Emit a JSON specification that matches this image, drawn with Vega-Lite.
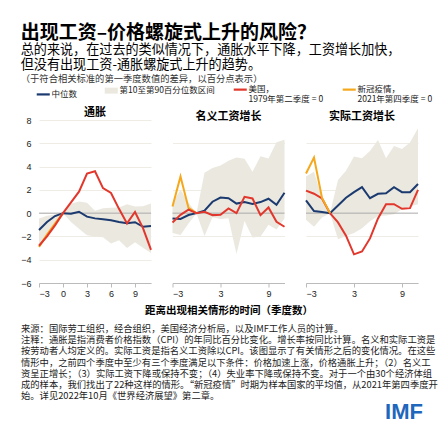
{
  "$schema": "https://vega.github.io/schema/vega-lite/v6.json",
  "background": "white",
  "padding": {"left": 20, "top": 23, "right": 4, "bottom": 4},
  "title": {
    "text": "出现工资–价格螺旋式上升的风险？",
    "subtitle": "总的来说，在过去的类似情况下，通胀水平下降，工资增长加快，",
    "anchor": "start",
    "font": "Noto Sans CJK SC",
    "fontSize": 19,
    "fontWeight": "bold",
    "color": "#000000",
    "subtitleFont": "Noto Sans CJK SC",
    "subtitleFontSize": 13.1,
    "subtitleColor": "#000000",
    "subtitlePadding": 1,
    "offset": 2
  },
  "datasets": {
    "lines": [
      {"panel": "通胀", "series": "中位数", "q": -3, "v": -1.45},
      {"panel": "通胀", "series": "中位数", "q": -2, "v": -0.76},
      {"panel": "通胀", "series": "中位数", "q": -1, "v": -0.25},
      {"panel": "通胀", "series": "中位数", "q": 0, "v": 0},
      {"panel": "通胀", "series": "中位数", "q": 1, "v": -0.06},
      {"panel": "通胀", "series": "中位数", "q": 2, "v": 0.12},
      {"panel": "通胀", "series": "中位数", "q": 3, "v": -0.3},
      {"panel": "通胀", "series": "中位数", "q": 4, "v": -0.45},
      {"panel": "通胀", "series": "中位数", "q": 5, "v": -0.53},
      {"panel": "通胀", "series": "中位数", "q": 6, "v": -0.62},
      {"panel": "通胀", "series": "中位数", "q": 7, "v": -0.76},
      {"panel": "通胀", "series": "中位数", "q": 8, "v": -0.87},
      {"panel": "通胀", "series": "中位数", "q": 9, "v": -0.78},
      {"panel": "通胀", "series": "中位数", "q": 10, "v": -1.17},
      {"panel": "通胀", "series": "中位数", "q": 11, "v": -1.1},
      {"panel": "通胀", "series": "新冠疫情，2021年第四季度 = 0", "q": -3, "v": -2.9},
      {"panel": "通胀", "series": "新冠疫情，2021年第四季度 = 0", "q": -2, "v": -1.85},
      {"panel": "通胀", "series": "新冠疫情，2021年第四季度 = 0", "q": -1, "v": -0.9},
      {"panel": "通胀", "series": "新冠疫情，2021年第四季度 = 0", "q": 0, "v": 0},
      {"panel": "通胀", "series": "美国，1979年第二季度 = 0", "q": -3, "v": -2.8},
      {"panel": "通胀", "series": "美国，1979年第二季度 = 0", "q": -2, "v": -2.0},
      {"panel": "通胀", "series": "美国，1979年第二季度 = 0", "q": -1, "v": -1.05},
      {"panel": "通胀", "series": "美国，1979年第二季度 = 0", "q": 0, "v": 0},
      {"panel": "通胀", "series": "美国，1979年第二季度 = 0", "q": 1, "v": 0.93},
      {"panel": "通胀", "series": "美国，1979年第二季度 = 0", "q": 2, "v": 1.84},
      {"panel": "通胀", "series": "美国，1979年第二季度 = 0", "q": 3, "v": 3.4},
      {"panel": "通胀", "series": "美国，1979年第二季度 = 0", "q": 4, "v": 3.6},
      {"panel": "通胀", "series": "美国，1979年第二季度 = 0", "q": 5, "v": 2.15},
      {"panel": "通胀", "series": "美国，1979年第二季度 = 0", "q": 6, "v": 1.73},
      {"panel": "通胀", "series": "美国，1979年第二季度 = 0", "q": 7, "v": 0.37},
      {"panel": "通胀", "series": "美国，1979年第二季度 = 0", "q": 8, "v": -0.88},
      {"panel": "通胀", "series": "美国，1979年第二季度 = 0", "q": 9, "v": 0.1},
      {"panel": "通胀", "series": "美国，1979年第二季度 = 0", "q": 10, "v": -1.28},
      {"panel": "通胀", "series": "美国，1979年第二季度 = 0", "q": 11, "v": -3.15},
      {"panel": "名义工资增长", "series": "中位数", "q": -3, "v": -0.45},
      {"panel": "名义工资增长", "series": "中位数", "q": -2, "v": -0.5},
      {"panel": "名义工资增长", "series": "中位数", "q": -1, "v": -0.16},
      {"panel": "名义工资增长", "series": "中位数", "q": 0, "v": 0},
      {"panel": "名义工资增长", "series": "中位数", "q": 1, "v": 0.22},
      {"panel": "名义工资增长", "series": "中位数", "q": 2, "v": 0.98},
      {"panel": "名义工资增长", "series": "中位数", "q": 3, "v": 1.34},
      {"panel": "名义工资增长", "series": "中位数", "q": 4, "v": 1.28},
      {"panel": "名义工资增长", "series": "中位数", "q": 5, "v": 0.82},
      {"panel": "名义工资增长", "series": "中位数", "q": 6, "v": 0.95},
      {"panel": "名义工资增长", "series": "中位数", "q": 7, "v": 0.78},
      {"panel": "名义工资增长", "series": "中位数", "q": 8, "v": 0.95},
      {"panel": "名义工资增长", "series": "中位数", "q": 9, "v": 1.24},
      {"panel": "名义工资增长", "series": "中位数", "q": 10, "v": 0.72},
      {"panel": "名义工资增长", "series": "中位数", "q": 11, "v": 1.75},
      {"panel": "名义工资增长", "series": "新冠疫情，2021年第四季度 = 0", "q": -3, "v": 0.57},
      {"panel": "名义工资增长", "series": "新冠疫情，2021年第四季度 = 0", "q": -2, "v": 3.15},
      {"panel": "名义工资增长", "series": "新冠疫情，2021年第四季度 = 0", "q": -1, "v": 0.45},
      {"panel": "名义工资增长", "series": "新冠疫情，2021年第四季度 = 0", "q": 0, "v": 0},
      {"panel": "名义工资增长", "series": "美国，1979年第二季度 = 0", "q": -3, "v": -0.8},
      {"panel": "名义工资增长", "series": "美国，1979年第二季度 = 0", "q": -2, "v": -0.15},
      {"panel": "名义工资增长", "series": "美国，1979年第二季度 = 0", "q": -1, "v": 0.3},
      {"panel": "名义工资增长", "series": "美国，1979年第二季度 = 0", "q": 0, "v": 0},
      {"panel": "名义工资增长", "series": "美国，1979年第二季度 = 0", "q": 1, "v": 0.11},
      {"panel": "名义工资增长", "series": "美国，1979年第二季度 = 0", "q": 2, "v": -0.17},
      {"panel": "名义工资增长", "series": "美国，1979年第二季度 = 0", "q": 3, "v": -0.14},
      {"panel": "名义工资增长", "series": "美国，1979年第二季度 = 0", "q": 4, "v": 0.4},
      {"panel": "名义工资增长", "series": "美国，1979年第二季度 = 0", "q": 5, "v": 0.0},
      {"panel": "名义工资增长", "series": "美国，1979年第二季度 = 0", "q": 6, "v": 1.4},
      {"panel": "名义工资增长", "series": "美国，1979年第二季度 = 0", "q": 7, "v": 1.26},
      {"panel": "名义工资增长", "series": "美国，1979年第二季度 = 0", "q": 8, "v": -0.17},
      {"panel": "名义工资增长", "series": "美国，1979年第二季度 = 0", "q": 9, "v": 0.49},
      {"panel": "名义工资增长", "series": "美国，1979年第二季度 = 0", "q": 10, "v": -0.74},
      {"panel": "名义工资增长", "series": "美国，1979年第二季度 = 0", "q": 11, "v": -1.17},
      {"panel": "实际工资增长", "series": "中位数", "q": -3, "v": 1.1},
      {"panel": "实际工资增长", "series": "中位数", "q": -2, "v": 0.18},
      {"panel": "实际工资增长", "series": "中位数", "q": -1, "v": 0.1},
      {"panel": "实际工资增长", "series": "中位数", "q": 0, "v": 0},
      {"panel": "实际工资增长", "series": "中位数", "q": 1, "v": 0.66},
      {"panel": "实际工资增长", "series": "中位数", "q": 2, "v": 1.32},
      {"panel": "实际工资增长", "series": "中位数", "q": 3, "v": 1.8},
      {"panel": "实际工资增长", "series": "中位数", "q": 4, "v": 2.23},
      {"panel": "实际工资增长", "series": "中位数", "q": 5, "v": 1.28},
      {"panel": "实际工资增长", "series": "中位数", "q": 6, "v": 1.66},
      {"panel": "实际工资增长", "series": "中位数", "q": 7, "v": 1.71},
      {"panel": "实际工资增长", "series": "中位数", "q": 8, "v": 2.23},
      {"panel": "实际工资增长", "series": "中位数", "q": 9, "v": 1.8},
      {"panel": "实际工资增长", "series": "中位数", "q": 10, "v": 1.8},
      {"panel": "实际工资增长", "series": "中位数", "q": 11, "v": 2.5},
      {"panel": "实际工资增长", "series": "美国，1979年第二季度 = 0", "q": -3, "v": 1.94},
      {"panel": "实际工资增长", "series": "美国，1979年第二季度 = 0", "q": -2, "v": 1.67},
      {"panel": "实际工资增长", "series": "美国，1979年第二季度 = 0", "q": -1, "v": 1.26},
      {"panel": "实际工资增长", "series": "美国，1979年第二季度 = 0", "q": 0, "v": 0},
      {"panel": "实际工资增长", "series": "美国，1979年第二季度 = 0", "q": 1, "v": -0.8},
      {"panel": "实际工资增长", "series": "美国，1979年第二季度 = 0", "q": 2, "v": -1.94},
      {"panel": "实际工资增长", "series": "美国，1979年第二季度 = 0", "q": 3, "v": -3.54},
      {"panel": "实际工资增长", "series": "美国，1979年第二季度 = 0", "q": 4, "v": -3.29},
      {"panel": "实际工资增长", "series": "美国，1979年第二季度 = 0", "q": 5, "v": -2.17},
      {"panel": "实际工资增长", "series": "美国，1979年第二季度 = 0", "q": 6, "v": -0.46},
      {"panel": "实际工资增长", "series": "美国，1979年第二季度 = 0", "q": 7, "v": 0.77},
      {"panel": "实际工资增长", "series": "美国，1979年第二季度 = 0", "q": 8, "v": 0.77},
      {"panel": "实际工资增长", "series": "美国，1979年第二季度 = 0", "q": 9, "v": 0.37},
      {"panel": "实际工资增长", "series": "美国，1979年第二季度 = 0", "q": 10, "v": 0.43},
      {"panel": "实际工资增长", "series": "美国，1979年第二季度 = 0", "q": 11, "v": 2.0},
      {"panel": "实际工资增长", "series": "新冠疫情，2021年第四季度 = 0", "q": -3, "v": 3.4},
      {"panel": "实际工资增长", "series": "新冠疫情，2021年第四季度 = 0", "q": -2, "v": 4.77},
      {"panel": "实际工资增长", "series": "新冠疫情，2021年第四季度 = 0", "q": -1, "v": 1.3},
      {"panel": "实际工资增长", "series": "新冠疫情，2021年第四季度 = 0", "q": 0, "v": 0}
    ],
    "band": [
      {"panel": "通胀", "q": -3, "lo": -2.75, "hi": -0.45},
      {"panel": "通胀", "q": -2, "lo": -1.95, "hi": -0.22},
      {"panel": "通胀", "q": -1, "lo": -1.0, "hi": -0.12},
      {"panel": "通胀", "q": 0, "lo": 0, "hi": 0},
      {"panel": "通胀", "q": 1, "lo": -0.75, "hi": 0.8},
      {"panel": "通胀", "q": 2, "lo": -1.35, "hi": 1.0},
      {"panel": "通胀", "q": 3, "lo": -1.9, "hi": 0.9},
      {"panel": "通胀", "q": 4, "lo": -2.0, "hi": 0.2},
      {"panel": "通胀", "q": 5, "lo": -2.08, "hi": 0.43},
      {"panel": "通胀", "q": 6, "lo": -2.6, "hi": 0.46},
      {"panel": "通胀", "q": 7, "lo": -2.33, "hi": 0.48},
      {"panel": "通胀", "q": 8, "lo": -3.0, "hi": 0.77},
      {"panel": "通胀", "q": 9, "lo": -2.5, "hi": 0.57},
      {"panel": "通胀", "q": 10, "lo": -2.98, "hi": 0.6},
      {"panel": "通胀", "q": 11, "lo": -3.42, "hi": 0.83},
      {"panel": "名义工资增长", "q": -3, "lo": -1.7, "hi": 0.9},
      {"panel": "名义工资增长", "q": -2, "lo": -1.88, "hi": 2.0},
      {"panel": "名义工资增长", "q": -1, "lo": -0.9, "hi": 0.9},
      {"panel": "名义工资增长", "q": 0, "lo": 0, "hi": 0},
      {"panel": "名义工资增长", "q": 1, "lo": -1.97, "hi": 3.47},
      {"panel": "名义工资增长", "q": 2, "lo": -0.36, "hi": 3.88},
      {"panel": "名义工资增长", "q": 3, "lo": -0.5, "hi": 4.1},
      {"panel": "名义工资增长", "q": 4, "lo": -0.43, "hi": 4.5},
      {"panel": "名义工资增长", "q": 5, "lo": -3.5, "hi": 4.77},
      {"panel": "名义工资增长", "q": 6, "lo": -0.68, "hi": 4.67},
      {"panel": "名义工资增长", "q": 7, "lo": -2.1, "hi": 3.55},
      {"panel": "名义工资增长", "q": 8, "lo": -2.0, "hi": 4.88},
      {"panel": "名义工资增长", "q": 9, "lo": -1.0, "hi": 4.7},
      {"panel": "名义工资增长", "q": 10, "lo": -1.4, "hi": 6.08},
      {"panel": "名义工资增长", "q": 11, "lo": -0.45, "hi": 6.3},
      {"panel": "实际工资增长", "q": -3, "lo": -0.57, "hi": 3.15},
      {"panel": "实际工资增长", "q": -2, "lo": -1.17, "hi": 3.55},
      {"panel": "实际工资增长", "q": -1, "lo": -0.37, "hi": 1.3},
      {"panel": "实际工资增长", "q": 0, "lo": 0, "hi": 0},
      {"panel": "实际工资增长", "q": 1, "lo": -2.25, "hi": 2.85},
      {"panel": "实际工资增长", "q": 2, "lo": -1.97, "hi": 3.65},
      {"panel": "实际工资增长", "q": 3, "lo": -1.7, "hi": 4.86},
      {"panel": "实际工资增长", "q": 4, "lo": -1.3, "hi": 4.72},
      {"panel": "实际工资增长", "q": 5, "lo": -0.7, "hi": 5.34},
      {"panel": "实际工资增长", "q": 6, "lo": -0.25, "hi": 6.28},
      {"panel": "实际工资增长", "q": 7, "lo": -0.2, "hi": 4.72},
      {"panel": "实际工资增长", "q": 8, "lo": -0.1, "hi": 5.77},
      {"panel": "实际工资增长", "q": 9, "lo": 0.34, "hi": 5.5},
      {"panel": "实际工资增长", "q": 10, "lo": 0.56, "hi": 6.07},
      {"panel": "实际工资增长", "q": 11, "lo": 0.77, "hi": 7.3}
    ],
    "zero": [{"v": 0}],
    "notes": [
      {"line": 1, "text": "来源：国际劳工组织，经合组织，美国经济分析局，以及IMF工作人员的计算。"},
      {"line": 2, "text": "注释：通胀是指消费者价格指数（CPI）的年同比百分比变化。增长率按同比计算。名义和实际工资是"},
      {"line": 3, "text": "按劳动者人均定义的。实际工资是指名义工资除以CPI。该图显示了有关情形之后的变化情况。在这些"},
      {"line": 4, "text": "情形中，之前四个季度中至少有三个季度满足以下条件：价格加速上涨，价格通胀上升；（2）名义工"},
      {"line": 5, "text": "资呈正增长；（3）实际工资下降或保持不变；（4）失业率下降或保持不变。对于一个由30个经济体组"},
      {"line": 6, "text": "成的样本，我们找出了22种这样的情形。“新冠疫情”时期为样本国家的平均值，从2021年第四季度开"},
      {"line": 7, "text": "始。详见2022年10月《世界经济展望》第二章。"}
    ],
    "logo": [{"line": 8.4, "text": "IMF"}]
  },
  "vconcat": [
    {
      "title": {
        "text": "但没有出现工资-通胀螺旋式上升的趋势。",
        "subtitle": "（于符合相关标准的第一季度数值的差异，以百分点表示）",
        "anchor": "start",
        "fontSize": 13.1,
        "fontWeight": "normal",
        "color": "#000000",
        "subtitleFontSize": 9.3,
        "subtitleColor": "#333333",
        "subtitleFont": "Noto Sans CJK SC",
        "subtitlePadding": 3,
        "offset": 1
      },
      "spacing": 21.5,
      "bounds": "flush",
      "hconcat": [
        {
          "width": 112, "height": 163,
          "title": {"text": "通胀", "frame": "group", "fontSize": 11, "fontWeight": "bold", "offset": -2},
          "layer": [
            {"data": {"name": "band"}, "transform": [{"filter": "datum.panel == '通胀'"}],
             "mark": {"type": "area", "color": "#ebe8df"},
             "encoding": {
               "x": {"field": "q", "type": "quantitative", "scale": {"domain": [-3, 11], "nice": false}, "axis": {"values": [-3, 0, 3, 6, 9], "title": null}},
               "y": {"field": "lo", "type": "quantitative", "scale": {"domain": [-6, 8], "nice": false}, "axis": {"values": [-6, -4, -2, 0, 2, 4, 6, 8], "title": null, "labelPadding": 8, "labelOverlap": false, "labelSeparation": 0}},
               "y2": {"field": "hi"}}},
            {"data": {"name": "zero"}, "mark": {"type": "rule", "color": "#aaaaaa", "strokeWidth": 1},
             "encoding": {"y": {"field": "v", "type": "quantitative", "axis": {"values": [-6, -4, -2, 0, 2, 4, 6, 8], "title": null, "labelPadding": 8, "labelOverlap": false, "labelSeparation": 0}}}},
            {"data": {"name": "lines"}, "transform": [{"filter": "datum.panel == '通胀'"}],
             "mark": {"type": "line", "strokeWidth": 2},
             "encoding": {
               "x": {"field": "q", "type": "quantitative", "axis": {"values": [-3, 0, 3, 6, 9], "title": null}},
               "y": {"field": "v", "type": "quantitative", "axis": {"values": [-6, -4, -2, 0, 2, 4, 6, 8], "title": null, "labelPadding": 8, "labelOverlap": false, "labelSeparation": 0}},
               "color": {"field": "series", "type": "nominal",
                 "scale": {"domain": ["中位数", "第10至第90百分位数区间", "美国，1979年第二季度 = 0", "新冠疫情，2021年第四季度 = 0"], "range": ["#1b3a6f", "#ebe8df", "#e2372c", "#f5a81c"]},
                 "legend": {
                   "labelExpr": "datum.label == '美国，1979年第二季度 = 0' ? ['美国，', '1979年第二季度 = 0'] : datum.label == '新冠疫情，2021年第四季度 = 0' ? ['新冠疫情，', '2021年第四季度 = 0'] : datum.label",
                   "encode": {
                     "symbols": {"update": {"strokeWidth": {"signal": "datum.value == '第10至第90百分位数区间' ? 6 : 2.2"}}},
                     "labels": {"update": {"lineHeight": {"value": 10}, "dy": {"value": -4.5}}}}}}}}
          ]
        },
        {
          "width": 112, "height": 163,
          "title": {"text": "名义工资增长", "frame": "group", "fontSize": 11, "fontWeight": "bold", "offset": -2},
          "layer": [
            {"data": {"name": "band"}, "transform": [{"filter": "datum.panel == '名义工资增长'"}],
             "mark": {"type": "area", "color": "#ebe8df"},
             "encoding": {
               "x": {"field": "q", "type": "quantitative", "scale": {"domain": [-3, 11], "nice": false}, "axis": {"values": [-3, 0, 3, 6, 9], "title": "距离出现相关情形的时间（季度数）", "titleFontSize": 10.5, "titleFontWeight": "bold", "titlePadding": 7}},
               "y": {"field": "lo", "type": "quantitative", "scale": {"domain": [-6, 8], "nice": false}, "axis": {"values": [-6, -4, -2, 0, 2, 4, 6, 8], "title": null, "labels": false}},
               "y2": {"field": "hi"}}},
            {"data": {"name": "zero"}, "mark": {"type": "rule", "color": "#aaaaaa", "strokeWidth": 1}, "encoding": {"y": {"field": "v", "type": "quantitative"}}},
            {"data": {"name": "lines"}, "transform": [{"filter": "datum.panel == '名义工资增长'"}],
             "mark": {"type": "line", "strokeWidth": 2},
             "encoding": {
               "x": {"field": "q", "type": "quantitative"},
               "y": {"field": "v", "type": "quantitative"},
               "color": {"field": "series", "type": "nominal",
                 "scale": {"domain": ["中位数", "第10至第90百分位数区间", "美国，1979年第二季度 = 0", "新冠疫情，2021年第四季度 = 0"], "range": ["#1b3a6f", "#ebe8df", "#e2372c", "#f5a81c"]}}}}
          ]
        },
        {
          "width": 112, "height": 163,
          "title": {"text": "实际工资增长", "frame": "group", "fontSize": 11, "fontWeight": "bold", "offset": -2},
          "layer": [
            {"data": {"name": "band"}, "transform": [{"filter": "datum.panel == '实际工资增长'"}],
             "mark": {"type": "area", "color": "#ebe8df"},
             "encoding": {
               "x": {"field": "q", "type": "quantitative", "scale": {"domain": [-3, 11], "nice": false}, "axis": {"values": [-3, 0, 3, 6, 9], "title": null}},
               "y": {"field": "lo", "type": "quantitative", "scale": {"domain": [-6, 8], "nice": false}, "axis": {"values": [-6, -4, -2, 0, 2, 4, 6, 8], "title": null, "labels": false}},
               "y2": {"field": "hi"}}},
            {"data": {"name": "zero"}, "mark": {"type": "rule", "color": "#aaaaaa", "strokeWidth": 1}, "encoding": {"y": {"field": "v", "type": "quantitative"}}},
            {"data": {"name": "lines"}, "transform": [{"filter": "datum.panel == '实际工资增长'"}],
             "mark": {"type": "line", "strokeWidth": 2},
             "encoding": {
               "x": {"field": "q", "type": "quantitative"},
               "y": {"field": "v", "type": "quantitative"},
               "color": {"field": "series", "type": "nominal",
                 "scale": {"domain": ["中位数", "第10至第90百分位数区间", "美国，1979年第二季度 = 0", "新冠疫情，2021年第四季度 = 0"], "range": ["#1b3a6f", "#ebe8df", "#e2372c", "#f5a81c"]}}}}
          ]
        }
      ]
    },
    {
      "width": 384, "height": 96,
      "layer": [
        {"data": {"name": "notes"},
         "mark": {"type": "text", "align": "left", "baseline": "middle", "fontSize": 9.3, "color": "#222222"},
         "encoding": {
           "x": {"datum": 0, "type": "quantitative", "scale": {"domain": [0, 1], "range": [-18, 384], "nice": false, "zero": false}, "axis": null},
           "y": {"field": "line", "type": "quantitative", "scale": {"domain": [0.5, 9], "reverse": true, "nice": false, "zero": false}, "axis": null},
           "text": {"field": "text"}}},
        {"data": {"name": "logo"},
         "mark": {"type": "text", "align": "right", "baseline": "middle", "fontSize": 22, "fontWeight": "bold", "font": "Liberation Sans", "color": "#1e67bd"},
         "encoding": {
           "x": {"datum": 1, "type": "quantitative"},
           "y": {"field": "line", "type": "quantitative"},
           "text": {"field": "text"}}}
      ]
    }
  ],
  "spacing": 7,
  "resolve": {"scale": {"color": "independent"}, "legend": {"color": "independent"}},
  "config": {
    "font": "Noto Sans CJK SC",
    "view": {"stroke": null},
    "title": {"color": "#000000", "font": "Noto Sans CJK SC"},
    "axis": {"labelFont": "Liberation Sans", "labelFontSize": 9, "labelColor": "#222222", "labelOverlap": false, "gridColor": "#efece5", "domain": false, "ticks": false, "titleFont": "Noto Sans CJK SC", "titleColor": "#000000"},
    "axisX": {"grid": false, "domain": true, "domainColor": "#bbbbbb", "ticks": true, "tickColor": "#bbbbbb", "tickSize": 4, "labelPadding": 2},
    "axisY": {"grid": true},
    "legend": {
      "orient": "top",
      "direction": "horizontal",
      "title": null,
      "symbolType": "stroke",
      "symbolSize": 170,
      "symbolStrokeWidth": 2.2,
      "labelFontSize": 8.5,
      "labelFont": "Noto Sans CJK SC",
      "labelColor": "#222222",
      "labelBaseline": "top",
      "labelOffset": 4,
      "columnPadding": 14,
      "offset": 3
    }
  }
}
